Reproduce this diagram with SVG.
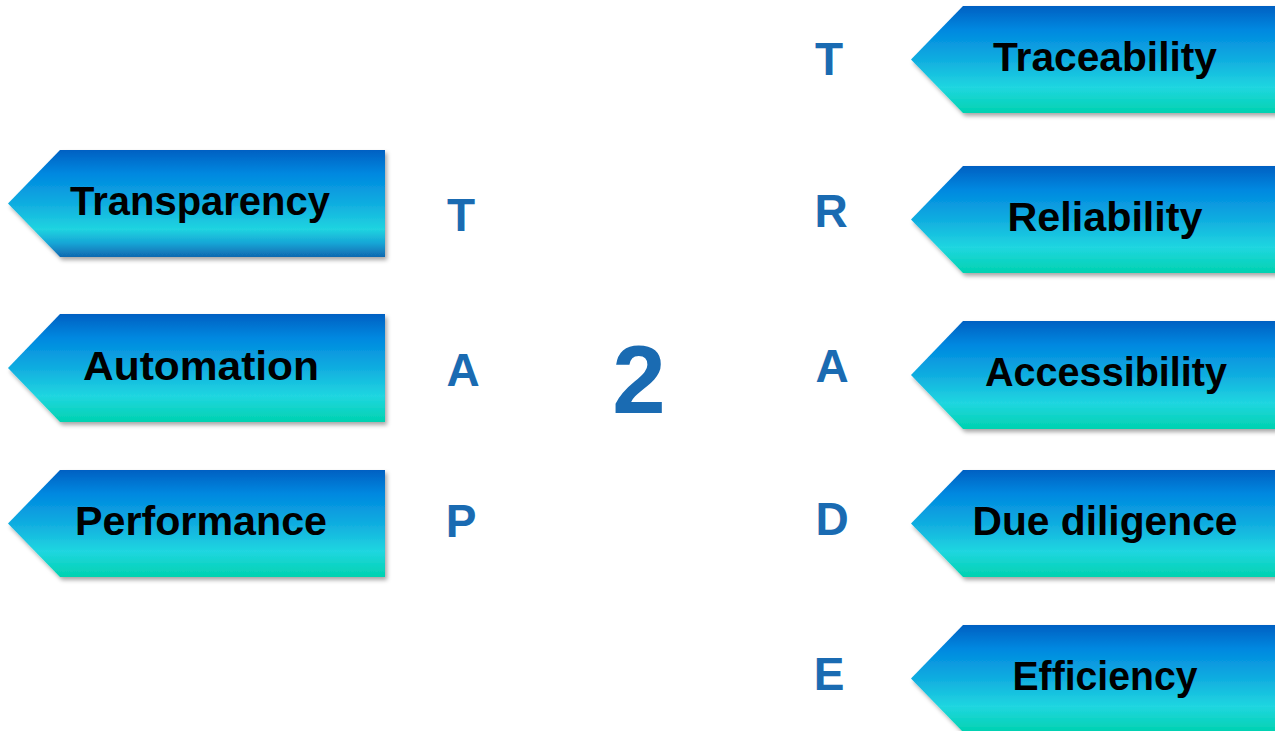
<svg xmlns="http://www.w3.org/2000/svg" width="1275" height="731" viewBox="0 0 1275 731">
  <defs>
    <linearGradient id="gTeal" x1="0" y1="0" x2="0" y2="1">
      <stop offset="0" stop-color="#0060C2"/>
      <stop offset="0.22" stop-color="#0088E0"/>
      <stop offset="0.5" stop-color="#10ADE0"/>
      <stop offset="0.76" stop-color="#20D6E0"/>
      <stop offset="1" stop-color="#00D2B0"/>
    </linearGradient>
    <linearGradient id="gDeep" x1="0" y1="0" x2="0" y2="1">
      <stop offset="0" stop-color="#0060C2"/>
      <stop offset="0.22" stop-color="#0088E0"/>
      <stop offset="0.5" stop-color="#10ADE0"/>
      <stop offset="0.74" stop-color="#20D4E0"/>
      <stop offset="0.87" stop-color="#16A6D6"/>
      <stop offset="1" stop-color="#1068B0"/>
    </linearGradient>
    <filter id="shadow" x="-5%" y="-10%" width="115%" height="130%">
      <feDropShadow dx="2" dy="3" stdDeviation="2" flood-color="#000" flood-opacity="0.35"/>
    </filter>
  </defs>
  <style>
    .tag { filter: url(#shadow); }
    .label { font-family: "Liberation Sans", Arial, sans-serif; font-weight: bold; font-size: 40px; fill: #000; text-anchor: middle; }
    .letter { font-family: "Liberation Sans", Arial, sans-serif; font-weight: bold; font-size: 46px; fill: #1A6BB2; text-anchor: middle; }
    .big { font-family: "Liberation Sans", Arial, sans-serif; font-weight: bold; font-size: 96px; fill: #1A6BB2; text-anchor: middle; }
  </style>

  <!-- left column: TAP -->
  <g id="node-transparency">
    <path class="tag" d="M8,203.5 L60,150 L385,150 L385,257 L60,257 Z" fill="url(#gDeep)"/>
    <text class="label" x="200" y="215" textLength="260" lengthAdjust="spacingAndGlyphs">Transparency</text>
  </g>
  <g id="node-automation">
    <path class="tag" d="M8,368 L60,314 L385,314 L385,422 L60,422 Z" fill="url(#gTeal)"/>
    <text class="label" x="201" y="380" textLength="236" lengthAdjust="spacingAndGlyphs">Automation</text>
  </g>
  <g id="node-performance">
    <path class="tag" d="M8,523.5 L60,470 L385,470 L385,577 L60,577 Z" fill="url(#gTeal)"/>
    <text class="label" x="201" y="535" textLength="252" lengthAdjust="spacingAndGlyphs">Performance</text>
  </g>

  <g id="letters-tap">
    <text class="letter" x="461" y="231">T</text>
    <text class="letter" x="463" y="386">A</text>
    <text class="letter" x="461" y="537">P</text>
  </g>

  <g id="node-two">
    <text class="big" x="639" y="413">2</text>
  </g>

  <g id="letters-trade">
    <text class="letter" x="829" y="75">T</text>
    <text class="letter" x="831" y="227">R</text>
    <text class="letter" x="832" y="382">A</text>
    <text class="letter" x="832" y="535">D</text>
    <text class="letter" x="829" y="690">E</text>
  </g>

  <!-- right column: TRADE -->
  <g id="node-traceability">
    <path class="tag" d="M911,59.5 L963,6 L1285,6 L1285,113 L963,113 Z" fill="url(#gTeal)"/>
    <text class="label" x="1105" y="71" textLength="224" lengthAdjust="spacingAndGlyphs">Traceability</text>
  </g>
  <g id="node-reliability">
    <path class="tag" d="M911,219.5 L963,166 L1285,166 L1285,273 L963,273 Z" fill="url(#gTeal)"/>
    <text class="label" x="1105" y="231" textLength="195" lengthAdjust="spacingAndGlyphs">Reliability</text>
  </g>
  <g id="node-accessibility">
    <path class="tag" d="M911,375 L963,321 L1285,321 L1285,429 L963,429 Z" fill="url(#gTeal)"/>
    <text class="label" x="1106" y="386" textLength="242" lengthAdjust="spacingAndGlyphs">Accessibility</text>
  </g>
  <g id="node-due-diligence">
    <path class="tag" d="M911,523.5 L963,470 L1285,470 L1285,577 L963,577 Z" fill="url(#gTeal)"/>
    <text class="label" x="1105" y="535" textLength="265" lengthAdjust="spacingAndGlyphs">Due diligence</text>
  </g>
  <g id="node-efficiency">
    <path class="tag" d="M911,678.5 L963,625 L1285,625 L1285,732 L963,732 Z" fill="url(#gTeal)"/>
    <text class="label" x="1105" y="690" textLength="185" lengthAdjust="spacingAndGlyphs">Efficiency</text>
  </g>
</svg>
